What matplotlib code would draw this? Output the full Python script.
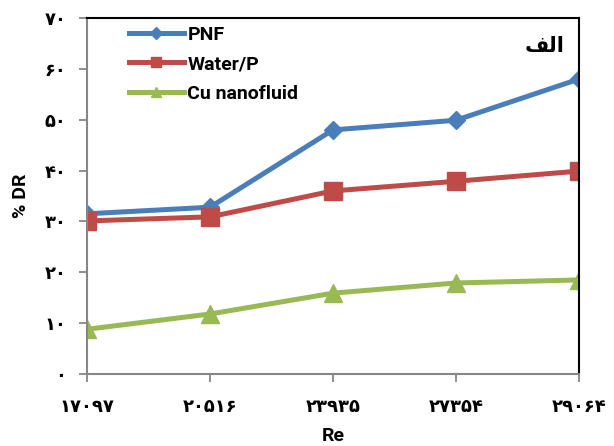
import matplotlib
matplotlib.use("Agg")
import matplotlib.pyplot as plt

plt.rcParams['font.family'] = ['Roboto', 'DejaVu Sans']
plt.rcParams['font.weight'] = 'bold'

re_labels = ['۱۷۰۹۷', '۲۰۵۱۶', '۲۳۹۳۵', '۲۷۳۵۴', '۲۹۰۶۴']
y_ticks = [0, 10, 20, 30, 40, 50, 60, 70]
y_tick_labels = ['۰', '۱۰', '۲۰', '۳۰', '۴۰', '۵۰', '۶۰', '۷۰']

pnf = [31.5, 32.8, 48.0, 49.9, 58.0]
water_p = [30.1, 30.9, 36.0, 37.9, 39.9]
cu_nano = [8.8, 11.8, 15.9, 17.9, 18.5]

# "alef" written in presentation forms, visual order (matplotlib has no bidi)
panel_label = '\uFED2\uFEDF\uFE8D'

fig = plt.figure(figsize=(6.14, 4.46), dpi=100)
ax = fig.add_axes([0.1417, 0.1614, 0.8013, 0.7982])

x = list(range(len(re_labels)))
ax.plot(x, pnf, color='#4A7EBB', lw=3.6, marker='D', ms=9.5, label='PNF')
ax.plot(x, water_p, color='#BE4B48', lw=3.6, marker='s', ms=13, label='Water/P')
ax.plot(x, cu_nano, color='#98B954', lw=3.6, marker='^', ms=13, label='Cu nanofluid')

ax.set_xlim(0, len(re_labels) - 1)
ax.set_ylim(0, 70)
ax.set_xticks(x)
ax.set_xticklabels(re_labels, fontsize=13, family=['DejaVu Sans'], fontweight='bold')
ax.set_yticks(y_ticks)
ax.set_yticklabels(y_tick_labels, fontsize=13, family=['DejaVu Sans'], fontweight='bold')
ax.tick_params(axis='both', direction='out', length=6, width=1.3, color='#868686')
ax.tick_params(axis='x', pad=11)
ax.tick_params(axis='y', pad=9)

for s in ['left', 'bottom']:
    ax.spines[s].set_color('#868686')
    ax.spines[s].set_linewidth(1.5)
for s in ['top', 'right']:
    ax.spines[s].set_color('black')
    ax.spines[s].set_linewidth(1.5)

ax.set_xlabel('Re', fontsize=14, fontweight='bold', labelpad=8)
ax.set_ylabel('% DR', fontsize=14, fontweight='bold', labelpad=10)

ax.text(0.97, 0.92, panel_label, transform=ax.transAxes, ha='right', va='center',
        fontsize=15, fontweight='bold', family=['DejaVu Sans'])

leg = ax.legend(loc='upper left', bbox_to_anchor=(0.05, 1.028), frameon=False,
                prop={'size': 14, 'weight': 'bold'}, handlelength=2.8,
                handletextpad=0.2, labelspacing=0.6, markerscale=0.6)

fig.savefig('out.png', dpi=100)
